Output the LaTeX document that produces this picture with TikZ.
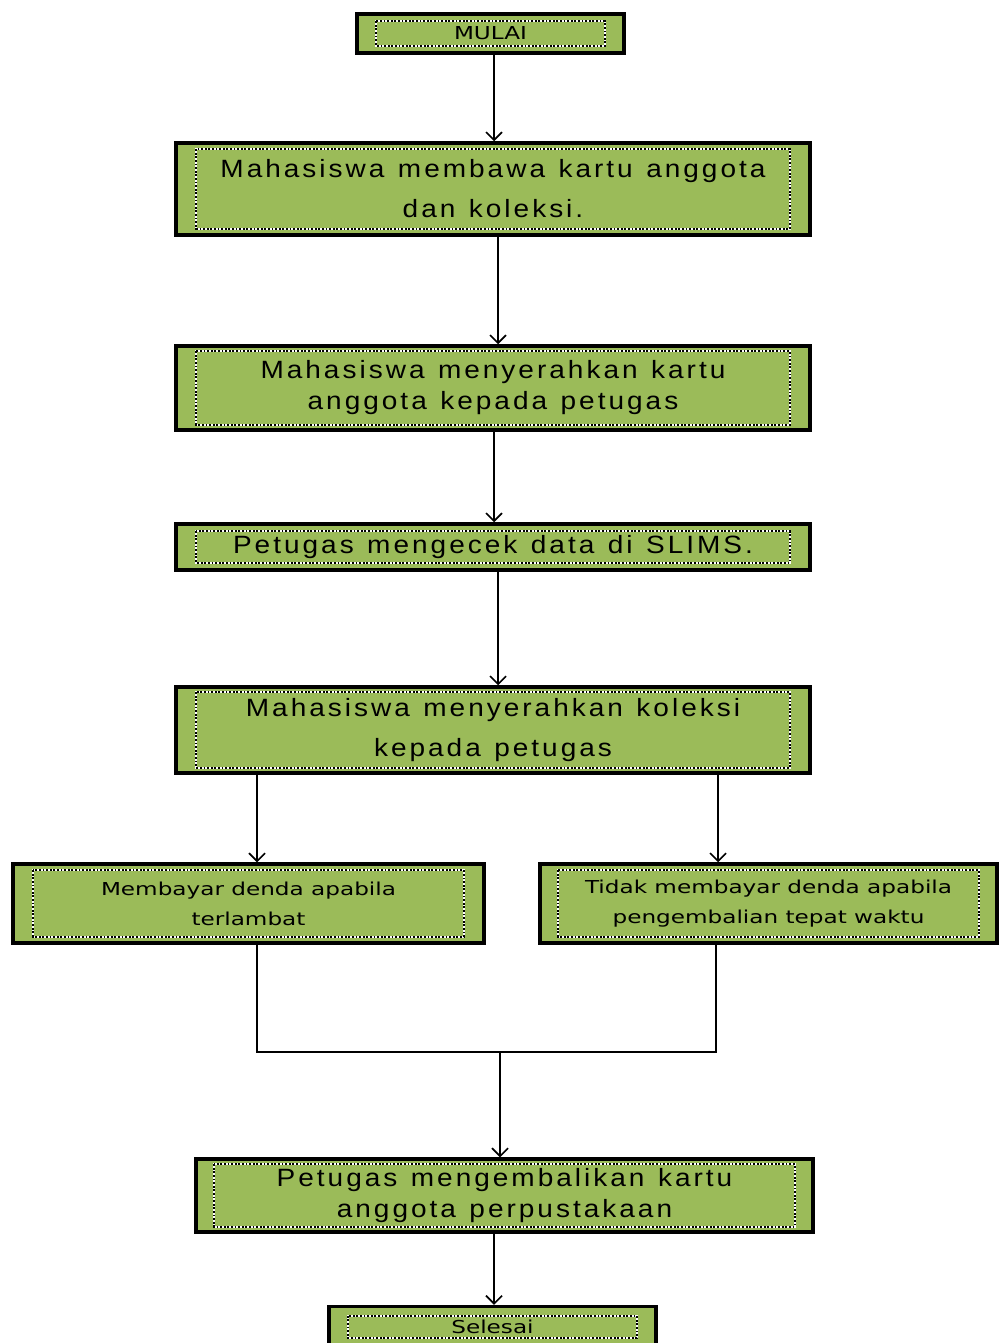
\documentclass[tikz,border=0pt]{standalone}
\usepackage{fontspec}
\newfontfamily\boxfont[FakeStretch=1.12,LetterSpace=12,WordSpace=1.25]{Liberation Sans}
\newfontfamily\smallfont[FakeStretch=1.3]{DejaVu Sans}
\usetikzlibrary{arrows.meta}
\definecolor{boxgreen}{HTML}{9BBB59}
\begin{document}
\begin{tikzpicture}[x=1pt,y=-1pt,
 flowbox/.style={draw=black, line width=3.5pt, fill=boxgreen, inner sep=0pt, align=center, text=black},
 bigtext/.style={font=\boxfont\fontsize{25}{31}\selectfont},
 widetext/.style={font=\boxfont\fontsize{25}{40}\selectfont},
 smalltext/.style={font=\smallfont\fontsize{17.8}{30}\selectfont},
 arr/.style={line width=1.6pt, -{Straight Barb[length=8pt,width=16pt,line width=1.6pt]}},
 conn/.style={line width=1.6pt},
 innerline/.style={line width=1.8pt}
]
\useasboundingbox (0,0) rectangle (1001,1343);
\fill[white] (0,0) rectangle (1001,1343);

\node[flowbox, smalltext, minimum width=267pt, minimum height=39pt] (mulai) at (490.5,33.5) {MULAI};
\node[flowbox, widetext, minimum width=634pt, minimum height=92pt] (b2) at (493,189) {Mahasiswa membawa kartu anggota\\dan koleksi.};
\node[flowbox, bigtext, minimum width=634pt, minimum height=84pt] (b3) at (493,388) {Mahasiswa menyerahkan kartu\\anggota kepada petugas};
\node[flowbox, bigtext, minimum width=634pt, minimum height=46pt] (b4) at (493,547) {Petugas mengecek data di SLIMS.};
\node[flowbox, widetext, minimum width=634pt, minimum height=86pt] (b5) at (493,730) {Mahasiswa menyerahkan koleksi\\kepada petugas};
\node[flowbox, smalltext, minimum width=471pt, minimum height=79pt] (bl) at (248.5,903.5) {Membayar denda apabila\\terlambat};
\node[flowbox, smalltext, minimum width=457pt, minimum height=79pt] (br) at (768.5,903.5) {Tidak membayar denda apabila\\pengembalian tepat waktu};
\node[flowbox, bigtext, minimum width=617pt, minimum height=73pt] (b8) at (504.5,1195.5) {Petugas mengembalikan kartu\\anggota perpustakaan};
\node[flowbox, smalltext, minimum width=327pt, minimum height=41pt] (selesai) at (492.5,1327) {Selesai};

% inner dotted frames
\foreach \n/\dx/\dy in {mulai/21/9, b2/22/8, b3/22/7, b4/22/9, b5/22/7, bl/22/8, br/20/8, b8/20/7, selesai/21/11}{
  \draw[innerline, white] ([shift={(\dx pt,-\dy pt)}]\n.north west) rectangle ([shift={(-\dx pt,\dy pt)}]\n.south east);
  \draw[innerline, black, dash pattern=on 1.8pt off 1.8pt] ([shift={(\dx pt,-\dy pt)}]\n.north west) rectangle ([shift={(-\dx pt,\dy pt)}]\n.south east);
}

% connectors
\draw[arr] ([xshift=3.5pt]mulai.south) -- ([xshift=1pt]b2.north);
\draw[arr] ([xshift=5pt]b2.south) -- ([xshift=5pt]b3.north);
\draw[arr] ([xshift=1pt]b3.south) -- ([xshift=1pt]b4.north);
\draw[arr] ([xshift=5pt]b4.south) -- ([xshift=5pt]b5.north);
\coordinate (blin) at ([xshift=8.5pt]bl.north);
\coordinate (brin) at ([xshift=-50.5pt]br.north);
\draw[arr] (b5.south -| blin) -- (blin);
\draw[arr] (b5.south -| brin) -- (brin);
\coordinate (joinL) at (257,1052);
\coordinate (joinR) at (716,1052);
\coordinate (join) at (500,1052);
\draw[conn] (bl.south -| joinL) -- (joinL) -- (joinR) -- (br.south -| joinR);
\draw[arr] (join) -- (join |- b8.north);
\coordinate (endin) at ([xshift=1.5pt]selesai.north);
\draw[arr] (b8.south -| endin) -- (endin);
\end{tikzpicture}
\end{document}
